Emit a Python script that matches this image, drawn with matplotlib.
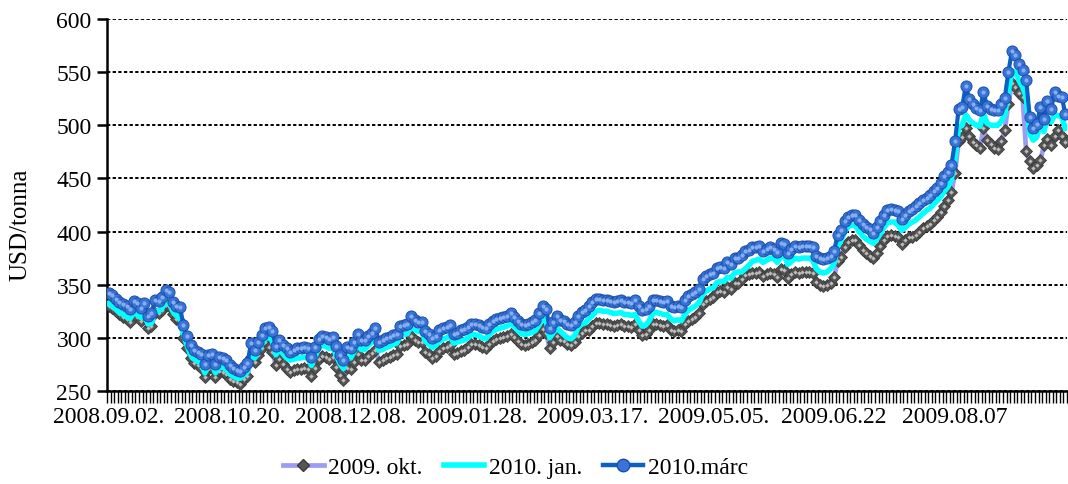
#!/usr/bin/env python3
"""Daily futures prices (USD/tonna) for three delivery months."""

import matplotlib
matplotlib.use("Agg")
import matplotlib.pyplot as plt
from matplotlib.lines import Line2D
import numpy as np

# tick labels, one every 34 trading days
date_labels = ["2008.09.02.", "2008.10.20.", "2008.12.08.", "2009.01.28.",
               "2009.03.17.", "2009.05.05.", "2009.06.22", "2009.08.07"]
label_step = 34

okt_2009 = [
    330, 328, 325, 322, 320, 318, 315, 322, 320, 316, 320, 309, 311, 323, 323, 326, 331, 330, 322, 318,
    316, 300, 290, 281, 276, 274, 272, 263, 271, 272, 263, 269, 268, 266, 261, 259, 258, 257, 261, 264,
    282, 277, 284, 290, 296,
    291, 287, 274, 280, 275, 271, 268, 270, 271, 271, 272, 271, 264, 272, 280, 283, 282, 280, 282, 273,
    265, 260, 272, 271, 277, 285, 279, 279, 283, 286, 289, 277, 279, 281, 282, 284, 285, 292, 293, 294,
    302, 298, 296, 296, 287,
    285, 281, 283, 288, 290, 291, 293, 285, 286, 288, 289, 291, 294, 294, 293, 291, 290, 294, 297, 299,
    300, 301, 302, 304, 301, 297, 294, 293, 294, 296, 298, 303, 308, 305, 290, 296, 302, 298, 297, 294,
    293, 296, 302, 305, 307,
    307, 311, 314, 314, 313, 313, 312, 311, 312, 313, 311, 311, 310, 313, 307, 303, 304, 307, 313, 313,
    312, 311, 312, 307, 306, 307, 306, 313, 316, 318, 320, 323, 332, 335, 337, 338, 343, 344, 343, 348,
    346, 352, 352, 355, 359, 360,
    361, 361, 362, 358, 360, 361, 360, 357, 365, 364, 356, 360, 362, 361, 362, 362, 362, 361, 353, 350,
    349, 350, 352, 357, 372, 376, 385, 390, 392, 392, 387, 383, 380, 377, 375, 380, 386, 392, 396, 397,
    396, 395, 388, 392, 395,
    395, 397, 400, 403, 405, 407, 411, 414, 418, 424, 430, 437, 455, 485, 489, 497, 490, 484, 481, 479,
    497, 486, 482, 479, 478, 485, 496, 520, 540, 536, 530, 527, 476, 466, 460, 463, 467, 481, 487, 481,
    490, 496, 490, 484,
]

jan_2010 = [
    332, 330, 327, 324, 322, 320, 318, 324, 322, 319, 322, 313, 314, 325, 325, 328, 334, 333, 325, 321,
    319, 303, 293, 284, 280, 278, 276, 267, 275, 276, 267, 273, 272, 271, 266, 264, 262, 262, 265, 268,
    286, 281, 287, 294, 299,
    301, 297, 284, 289, 285, 281, 279, 280, 281, 281, 282, 281, 274, 282, 290, 293, 292, 290, 292, 283,
    276, 271, 282, 281, 287, 295, 289, 289, 293, 296, 300, 288, 289, 291, 292, 294, 295, 302, 303, 304,
    311, 308, 306, 306, 297,
    294, 291, 293, 297, 299, 300, 302, 295, 296, 297, 298, 300, 303, 303, 302, 300, 299, 303, 306, 308,
    309, 310, 311, 313, 311, 307, 304, 303, 304, 305, 307, 312, 318, 316, 300, 305, 309, 306, 303, 300,
    299, 302, 310, 313, 314,
    318, 321, 325, 326, 325, 325, 324, 323, 323, 324, 322, 322, 321, 322, 316, 311, 312, 316, 323, 324,
    323, 322, 322, 318, 316, 317, 316, 322, 326, 328, 330, 333, 341, 344, 346, 347, 352, 353, 353, 357,
    356, 361, 362, 362, 365, 368,
    372, 373, 374, 371, 373, 375, 375, 371, 377, 377, 369, 372, 375, 374, 375, 375, 375, 373, 365, 362,
    361, 362, 365, 370, 386, 392, 400, 405, 406, 406, 400, 396, 393, 391, 389, 393, 398, 404, 408, 409,
    409, 406, 401, 404, 407,
    409, 411, 414, 417, 420, 422, 426, 429, 433, 438, 442, 450, 470, 498, 500, 510, 505, 502, 500, 499,
    511, 502, 500, 500, 500, 504, 510, 532, 551, 550, 542, 536, 527, 492, 486, 489, 502, 494, 507, 503,
    510, 509, 508, 497,
]

marc_2010 = [
    342, 340, 337, 334, 332, 330, 327, 335, 333, 328, 333, 321, 323, 336, 335, 338, 345, 343, 334, 330,
    329, 312, 302, 293, 289, 287, 285, 275, 284, 285, 275, 282, 281, 279, 274, 272, 270, 269, 273, 276,
    295, 289, 296, 303, 309,
    310, 306, 292, 298, 293, 290, 287, 289, 290, 290, 291, 290, 282, 291, 299, 302, 301, 299, 301, 292,
    284, 279, 291, 290, 296, 304, 298, 298, 302, 305, 309, 296, 298, 300, 301, 303, 304, 311, 312, 313,
    321, 317, 315, 315, 306,
    304, 300, 302, 307, 309, 310, 312, 304, 305, 307, 308, 310, 313, 313, 312, 310, 309, 313, 316, 318,
    319, 320, 321, 323, 320, 316, 313, 312, 313, 315, 317, 323, 330, 327, 309, 315, 321, 317, 316, 313,
    312, 315, 321, 324, 326,
    330, 334, 337, 337, 336, 336, 335, 334, 335, 336, 334, 334, 333, 336, 330, 326, 327, 330, 336, 336,
    335, 334, 335, 330, 329, 330, 329, 336, 339, 341, 343, 346, 355, 358, 360, 361, 366, 367, 366, 371,
    369, 375, 375, 378, 382, 383,
    385, 385, 386, 382, 384, 385, 384, 381, 389, 388, 380, 384, 386, 385, 386, 386, 386, 385, 377, 375,
    374, 375, 377, 382, 397, 401, 410, 414, 416, 416, 411, 407, 404, 402, 399, 404, 410, 416, 420, 421,
    420, 419, 412, 416, 419,
    421, 424, 427, 430, 432, 434, 438, 441, 446, 452, 456, 463, 485, 515, 517, 537, 525, 520, 516, 514,
    531, 518, 515, 514, 514, 520, 526, 550, 570, 566, 558, 552, 543, 508, 497, 501, 517, 506, 523, 515,
    531, 528, 527, 511,
]

series_names = ["2009. okt.", "2010. jan.", "2010.márc"]

plt.rcParams["font.family"] = ["Liberation Serif", "DejaVu Serif"]

fig = plt.figure(figsize=(10.68, 4.85), dpi=100)
ax = fig.add_axes([0.1002, 0.1918, 0.8989, 0.767])

x = np.arange(len(marc_2010))

# 2009 okt: lavender line, grey diamonds
ax.plot(x, okt_2009, color="#9C9CF2", lw=3.4, zorder=3)
ax.plot(x, okt_2009, ls="none", marker="D", ms=5.8, mfc="#555555", mec="#3A3A3A",
        mew=0.6, zorder=3)
ax.plot(x, okt_2009, ls="none", marker="D", ms=2.2, mfc="#BDBDBD", mec="none", zorder=3)

# 2010 jan: plain cyan
ax.plot(x, jan_2010, color="#00FFFF", lw=4.0, zorder=4)

# 2010 marc: blue line with ball markers
ax.plot(x, marc_2010, color="#0A60C4", lw=3.0, zorder=5)
ax.plot(x, marc_2010, ls="none", marker="o", ms=8.0, mfc="#3874D8", mec="#1C4EAA",
        mew=0.7, zorder=5)
ax.plot(x, marc_2010, ls="none", marker="o", ms=3.0, mfc="#86AEEF", mec="none", zorder=5)

ax.set_xlim(-0.5, len(x) - 0.5)
ax.set_ylim(250, 600)
ax.set_yticks(np.arange(250, 601, 50))
ax.tick_params(axis="y", direction="out", length=7, width=1.8, pad=4, labelsize=17)

ax.set_xticks(np.arange(0, len(x), label_step))
ax.set_xticklabels(date_labels)
ax.set_xticks(np.arange(-0.5, len(x)), minor=True)
ax.tick_params(axis="x", which="major", length=0, pad=11, labelsize=17)
ax.tick_params(axis="x", which="minor", direction="out", length=8.5, width=1.0)

for side in ("top", "right"):
    ax.spines[side].set_visible(False)
ax.spines["left"].set_linewidth(1.8)
ax.spines["bottom"].set_linewidth(1.8)

ax.yaxis.grid(True, color="black", lw=1.4, ls=(0, (1.7, 1.2)))
ax.set_axisbelow(True)

ax.set_ylabel("USD/tonna", fontsize=18)
ax.yaxis.set_label_coords(-0.079, 0.45)

handles = [
    Line2D([], [], color="#9C9CF2", lw=3.4, marker="D", ms=6.5, mfc="#555555", mec="#3A3A3A"),
    Line2D([], [], color="#00FFFF", lw=4.0),
    Line2D([], [], color="#0A60C4", lw=3.2, marker="o", ms=9, mfc="#3874D8", mec="#1C4EAA"),
]
fig.legend(handles, series_names, loc="center", bbox_to_anchor=(0.483, 0.035), ncol=3,
           frameon=False, fontsize=17, handlelength=1.7, handletextpad=0.2,
           columnspacing=0.9)

fig.savefig("out.png", dpi=100)
